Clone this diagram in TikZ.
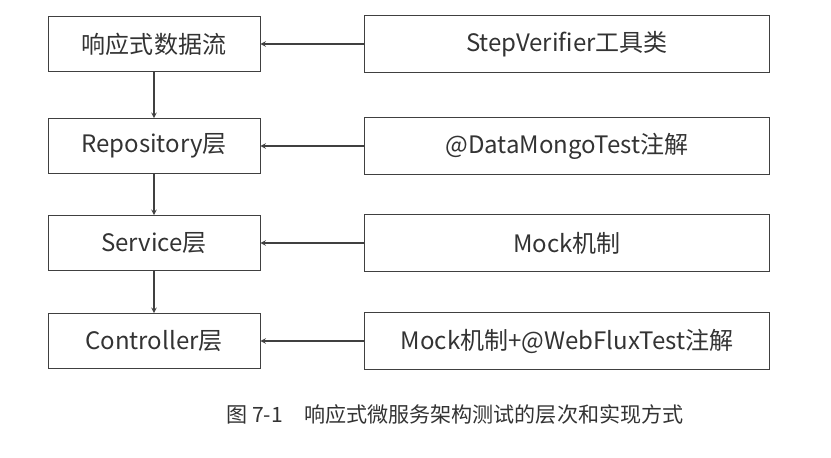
\documentclass[tikz,border=0pt]{standalone}
\usepackage{fontspec}
\setmainfont{Noto Sans CJK SC}
\usetikzlibrary{positioning}
\begin{document}
\begin{tikzpicture}[x=0.03cm,y=-0.03cm,semithick]
        \tikzstyle{lbox}=[
            rectangle,
            draw=black!75,
            minimum width=6.36cm,
            minimum height=1.65cm,
            text=black!80,
            font=\fontsize{20.5}{22}\selectfont
        ]
        \tikzstyle{rbox}=[lbox, minimum width=12.15cm, minimum height=1.7cm]

        \useasboundingbox (0,0) rectangle (831,458);

        \node[lbox] (A) at (154,44){响应式数据流};
        \node[lbox] (B) at (154,146){Repository层};
        \node[lbox] (C) at (154,243){Service层};
        \node[lbox] (D) at (154,341){Controller层};

        \node[rbox] (E) at (567,44){StepVerifier工具类};
        \node[rbox] (F) at (567,146){@DataMongoTest注解};
        \node[rbox] (G) at (567,243){Mock机制};
        \node[rbox] (H) at (567,341){Mock机制+@WebFluxTest注解};

        \draw[-stealth, black!75, line width=1.1] (A) -- (B);
        \draw[-stealth, black!75, line width=1.1] (B) -- (C);
        \draw[-stealth, black!75, line width=1.1] (C) -- (D);
        \draw[-stealth, black!75, line width=1.1] (E) -- (A);
        \draw[-stealth, black!75, line width=1.1] (F) -- (B);
        \draw[-stealth, black!75, line width=1.1] (G) -- (C);
        \draw[-stealth, black!75, line width=1.1] (H) -- (D);

        \node[text=black!80, font=\fontsize{18}{20}\selectfont] (cap) at (455,414){图 7-1\quad 响应式微服务架构测试的层次和实现方式};
    \end{tikzpicture}
\end{document}
